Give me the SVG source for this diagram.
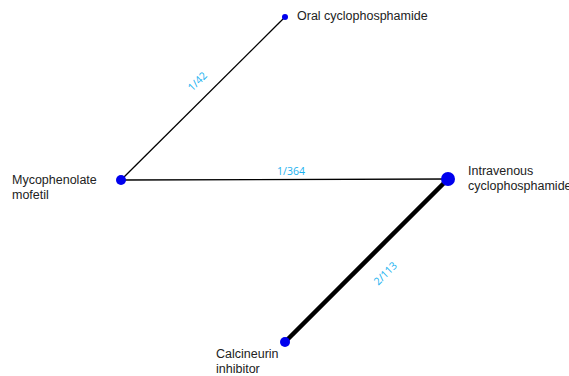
<svg xmlns="http://www.w3.org/2000/svg" width="569" height="376" viewBox="0 0 569 376">
<style>
.lbl{font-family:"Liberation Sans",Arial,sans-serif;font-size:12.5px;fill:#222}
.el{font-family:"Open Sans","Liberation Sans",sans-serif;font-size:10.5px;fill:#1ab2f0}
.e{stroke:#000;stroke-linecap:butt}
.n{fill:#0000ee}
</style>
<rect width="569" height="376" fill="#fff"/>
<g id="connectors">
<line class="e" x1="121" y1="180" x2="285" y2="17" stroke-width="1.3"/>
<line class="e" x1="121" y1="180" x2="448" y2="179" stroke-width="1.3"/>
<line class="e" x1="448" y1="179" x2="285" y2="342" stroke-width="4.5"/>
<text class="el" transform="translate(200,84) rotate(-45)" text-anchor="middle">1/42</text>
<text class="el" x="291" y="175" text-anchor="middle">1/364</text>
<text class="el" transform="translate(388,276) rotate(-45)" text-anchor="middle">2/113</text>
</g>
<g id="oral"><circle class="n" cx="285" cy="17" r="3"/><text class="lbl" x="297" y="20">Oral cyclophosphamide</text></g>
<g id="mmf"><circle class="n" cx="121" cy="180" r="5"/><text class="lbl" x="12" y="184">Mycophenolate</text><text class="lbl" x="12" y="199">mofetil</text></g>
<g id="iv"><circle class="n" cx="448" cy="179" r="7"/><text class="lbl" x="468" y="175">Intravenous</text><text class="lbl" x="468" y="190">cyclophosphamide</text></g>
<g id="cni"><circle class="n" cx="285" cy="342" r="5"/><text class="lbl" x="216" y="358">Calcineurin</text><text class="lbl" x="216" y="373">inhibitor</text></g>
</svg>
